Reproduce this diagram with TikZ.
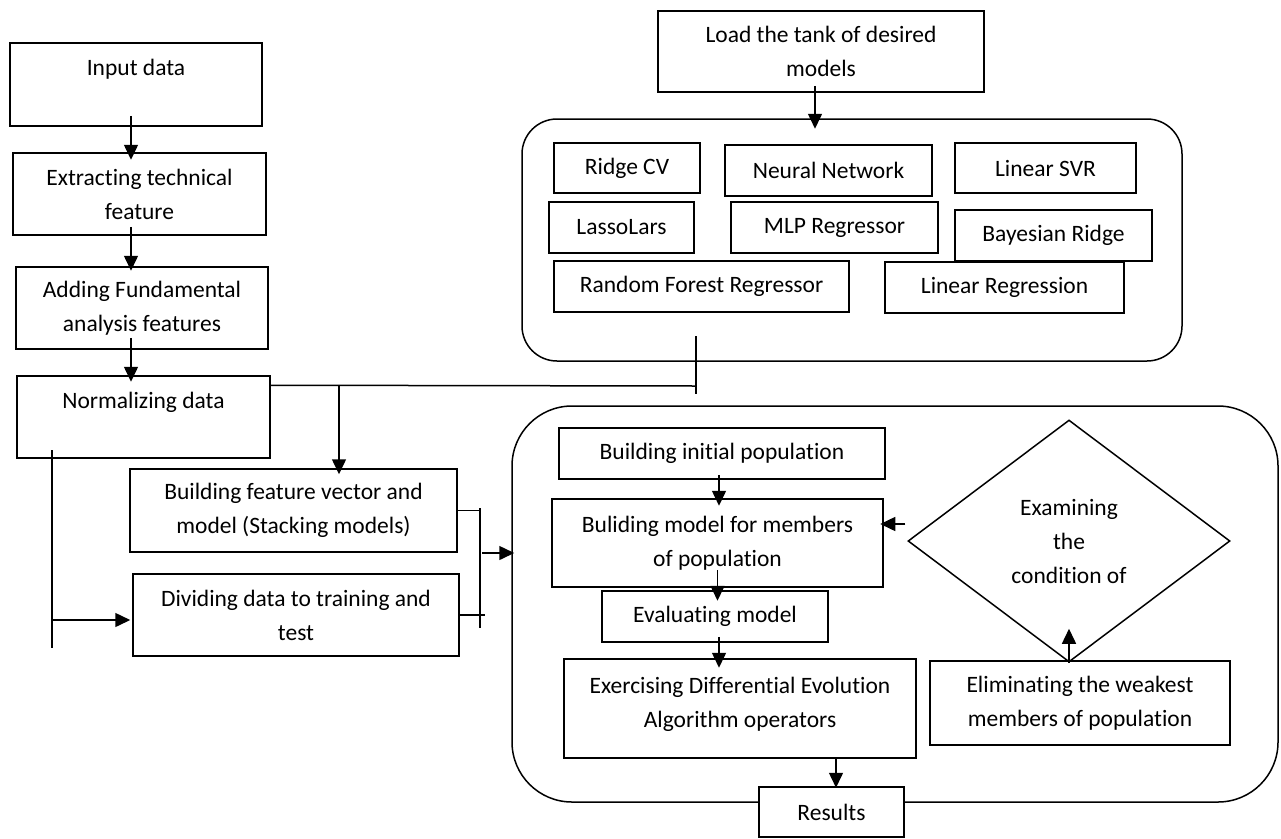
\documentclass[tikz,border=0pt]{standalone}
\usepackage{fontspec}
\setmainfont{Carlito}[Ligatures=NoCommon]
\usetikzlibrary{shapes.geometric,arrows.meta}
\tikzset{
  pbox/.style={draw, line width=1.5pt, fill=white, inner sep=2pt, align=center},
  sz/.style 2 args={minimum width=#1pt, minimum height=#2pt},
  pcont/.style={draw, line width=1.5pt},
  pline/.style={line width=1.5pt},
  parr/.style={line width=1.5pt, -{Triangle[width=14pt,length=15pt]}},
}
\begin{document}
\begin{tikzpicture}[x=1pt,y=-1pt,font=\fontsize{23.5}{34}\selectfont]
\useasboundingbox (0,0) rectangle (1281,838);

% containers
\node[pcont, rounded corners=35pt, sz={660}{242}] (pool) at (852,240) {};
\node[pcont, rounded corners=60pt, sz={766}{396}] (de) at (895,604) {};

% left column
\node[pbox, sz={252}{83}] (input) at (136,84.5) {Input data\\\mbox{}};
\node[pbox, sz={253}{82}] (ext) at (139.5,194) {Extracting technical\\feature};
\node[pbox, sz={252}{82}] (add) at (142,308) {Adding Fundamental\\analysis features};
\node[pbox, sz={253}{82}] (norm) at (143.5,417) {Normalizing data\\\mbox{}};
\node[pbox, sz={327}{83}] (bfv) at (293.5,510.5) {Building feature vector and\\model (Stacking models)};
\node[pbox, sz={326}{82}] (div) at (296,615) {Dividing data to training and\\test};

% model tank
\node[pbox, sz={326}{81}] (load) at (821,51.5) {Load the tank of desired\\models};
\node[pbox, sz={146}{50}] (ridge) at (627,168) {Ridge CV};
\node[pbox, sz={207}{51}] (nn) at (828.5,170.5) {Neural Network};
\node[pbox, sz={181}{50}] (svr) at (1045.5,168) {Linear SVR};
\node[pbox, sz={145}{51}] (lasso) at (621.5,227.5) {LassoLars};
\node[pbox, sz={207}{51}] (mlp) at (834.5,227.5) {MLP Regressor};
\node[pbox, sz={197}{51}] (bayes) at (1053.5,235.5) {Bayesian Ridge};
\node[pbox, sz={295}{51}] (rf) at (701.5,286.5) {Random Forest Regressor};
\node[pbox, sz={239}{51}] (lr) at (1004.5,287.5) {Linear Regression};

% DE part
\node[pbox, sz={326}{51}] (init) at (722,453.5) {Building initial population};
\node[pbox, sz={331}{88}] (bm) at (717.5,543) {Buliding model for members\\of population};
\node[pbox, sz={226}{51}] (eval) at (715,616.5) {Evaluating model};
\node[pbox, sz={352}{99}] (exer) at (740,708.5) {Exercising Differential Evolution\\Algorithm operators\\[-22pt]\mbox{}};
\node[pbox, sz={145}{50}] (res) at (831.5,812) {Results};
\node[diamond, draw, line width=1.5pt, fill=white, inner sep=0pt, align=center,
      minimum width=322pt, minimum height=242pt] (cond) at (1069,541) {Examining\\the\\condition of};
\node[pbox, sz={300}{84}] (elim) at (1080,703) {Eliminating the weakest\\members of population};

% helper coordinates
\coordinate (tk) at (696,386);
\coordinate (tkt) at (696,336);
\coordinate (tkb) at (696,394);
\coordinate (br) at (339,386);
\coordinate (lv1) at (52,450);
\coordinate (lv2) at (52,648);
\coordinate (lva) at (52,620);
\coordinate (rv1) at (480,508);
\coordinate (rv2) at (480,628);
\coordinate (ra) at (482,553);

% left column arrows
\draw[parr] ([xshift=-5pt,yshift=11pt]input.south) -- ++(0,44);
\draw[parr] ([xshift=-8.5pt,yshift=9pt]ext.south) -- ++(0,44);
\draw[parr] ([xshift=-11pt,yshift=12pt]add.south) -- ++(0,44);

% normalizing to model tank
\draw[pline] ([yshift=-10pt]norm.north east) -- (tk);
\draw[pline] (tkt) -- (tkb);
\draw[parr] (br) -- ([yshift=-6pt]br |- bfv.north);

% left vertical to dividing
\draw[pline] (lv1) -- (lv2);
\draw[parr] (lva) -- ([xshift=-2pt]lva -| div.west);

% right join into DE
\draw[pline] (bfv.east) -- (bfv.east -| rv1);
\draw[pline] (rv1) -- (rv2);
\draw[pline] (div.east) -- ++(25,0);
\draw[parr] (ra) -- ([xshift=3pt]ra -| de.west);

% model tank arrow
\draw[parr] ([xshift=-6pt,yshift=7pt]load.south) -- ++(0,43);

% DE arrows
\draw[parr] ([xshift=-3pt,yshift=5pt]init.south) -- ++(0,31);
\draw[parr] ([yshift=18pt]bm.south) -- ++(0,31);
\draw[parr] ([xshift=4pt,yshift=6pt]eval.south) -- ++(0,31);
\draw[parr] ([xshift=96pt,yshift=1pt]exer.south) -- ++(0,30);
\draw[parr] ([xshift=-2pt,yshift=17pt]cond.west) -- ++(-25,0);
\draw[parr] (cond.south) -- ++(0,-34);
\end{tikzpicture}
\end{document}
